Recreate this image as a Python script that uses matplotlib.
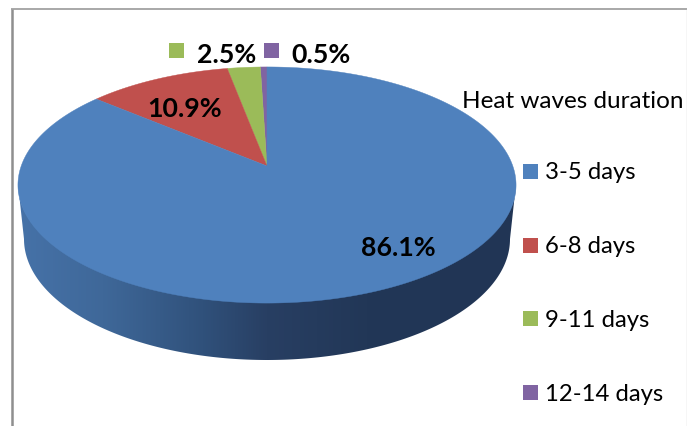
import numpy as np
import matplotlib
matplotlib.use('Agg')
import matplotlib.pyplot as plt
from matplotlib.colors import LinearSegmentedColormap
from matplotlib.patches import Polygon, Rectangle

categories = ['3-5 days', '6-8 days', '9-11 days', '12-14 days']
shares = [86.1, 10.9, 2.5, 0.5]
legend_title = 'Heat waves duration'
colors = ['#4F81BD', '#C0504D', '#9BBB59', '#8064A2']

plt.rcParams['font.family'] = ['Lato', 'DejaVu Sans']

W, H = 687, 427

# pie disc seen in perspective, everything below is in pixels
cx, cy = 267, 167
tilt = 0.161
sx, sy = 245.8, 115


def project(theta):
    # theta is clockwise from 12 o'clock on the flat disc
    x = np.sin(theta)
    y = np.cos(theta)
    d = 1 + tilt * y
    return cx + sx * x / d, cy - sy * y / d


fig = plt.figure(figsize=(W / 100, H / 100), dpi=100)
ax = fig.add_axes([0, 0, 1, 1])

# side wall: lower half of the top rim joined to the bottom rim, with a shading
low_t = np.linspace(0, np.pi, 300)
wall_x = np.concatenate([267 + 249 * np.cos(low_t), 267 + 243 * np.cos(low_t[::-1])])
wall_y = np.concatenate([185 + 118 * np.sin(low_t), 240 + 121 * np.sin(low_t[::-1])])
wall = Polygon(np.column_stack([wall_x, wall_y]), closed=True, fc='none', ec='none')
ax.add_patch(wall)
wall_cmap = LinearSegmentedColormap.from_list('wall', [
    (0.00, '#4672a8'), (0.17, '#3f6899'), (0.37, '#30517b'),
    (0.50, '#283f63'), (0.70, '#223757'), (1.00, '#213555')])
img = ax.imshow(np.linspace(0, 1, 256).reshape(1, -1), cmap=wall_cmap, aspect='auto',
                extent=(18, 516, 365, 180), zorder=1)
img.set_clip_path(wall)

# top of the pie, going counter-clockwise from 12 o'clock, smallest share first
end = 2 * np.pi
for value, color in zip(shares[::-1], colors[::-1]):
    start = end - value / sum(shares) * 2 * np.pi
    arc = np.linspace(start, end, max(int(value * 8), 8))
    px, py = project(arc)
    pts = np.column_stack([np.r_[cx, px], np.r_[cy, py]])
    ax.add_patch(Polygon(pts, closed=True, fc=color, ec=color, lw=0.3, zorder=2))
    end = start

# value labels
label_xy = [(398, 248), (184.5, 109), (226.5, 55), (321, 55)]
for value, (lx, ly) in zip(shares, label_xy):
    ax.text(lx, ly, f'{value}%', fontsize=19.3, fontweight='bold', color='black',
            ha='center', va='center', zorder=4)

# small keys beside the two outer labels
for color, kx in zip(colors[2:], [169, 264]):
    ax.add_patch(Rectangle((kx, 44), 15, 15, fc=color, ec='none', zorder=3))

# legend
ax.text(462, 101, legend_title, fontsize=17.5, color='black', ha='left', va='center', zorder=4)
for i, (name, color) in enumerate(zip(categories, colors)):
    top = 165 + i * 73.7
    ax.add_patch(Rectangle((523, top), 15, 15, fc=color, ec='none', zorder=3))
    ax.text(545, top + 8, name, fontsize=17.2, color='black', ha='left', va='center', zorder=4)

# chart frame
ax.plot([12, 12], [10, H], color='#8f8f8f', lw=1.8, solid_capstyle='butt', zorder=5)
ax.plot([11, W], [10, 10], color='#999999', lw=1.2, solid_capstyle='butt', zorder=5)
ax.plot([686.5, 686.5], [10, H], color='#d4d4d4', lw=1, solid_capstyle='butt', zorder=5)

ax.set_xlim(0, W)
ax.set_ylim(H, 0)
ax.axis('off')
fig.savefig('out.png', dpi=100, facecolor='white')
